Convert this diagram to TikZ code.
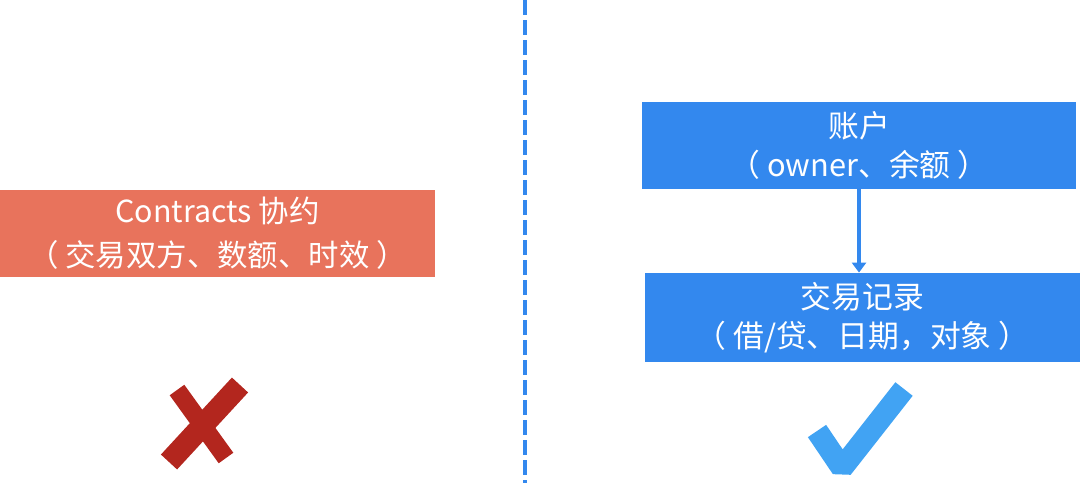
\documentclass[tikz,border=0pt]{standalone}
\usepackage{fontspec}
\newfontfamily\cjk{Noto Sans CJK SC}
\usetikzlibrary{arrows.meta}
\definecolor{contractred}{HTML}{E8735C}
\definecolor{ledgerblue}{HTML}{3388EE}
\definecolor{crossred}{HTML}{B3261E}
\definecolor{tickblue}{HTML}{41A3F3}
\tikzset{
  leftbox/.style={fill=contractred, text=white, inner sep=0pt, minimum width=217.5pt, minimum height=43.5pt,
    align=center, font=\cjk\fontsize{15.2}{22}\selectfont},
  rightbox/.style={fill=ledgerblue, text=white, inner sep=0pt, minimum width=217pt, minimum height=43.5pt,
    align=center, font=\cjk\fontsize{15.4}{19.5}\selectfont},
}
\begin{document}
\begin{tikzpicture}[x=0.5pt,y=-0.5pt]
\useasboundingbox (0,0) rectangle (1080,483);
% divider
\coordinate (divtop) at (525,0);
\coordinate (divbot) at (525,483);
\draw[ledgerblue, line width=2.2pt, dash pattern=on 7.5pt off 2.5pt] (divtop) -- (divbot);
% left side
\node[leftbox] (contract) at (217.5,233.5) {Contracts 协约\\（ 交易双方、数额、时效 ）};
% right side
\node[rightbox] (account) at (859,145.5) {账户\\（ owner、余额 ）};
\node[rightbox, minimum width=217.5pt, minimum height=44.5pt] (ledger) at (862.5,317.5) {交易记录\\（ 借/贷、日期，对象 ）};
\draw[ledgerblue, line width=2pt, -{Triangle[width=7pt,length=5pt]}] (account.south) -- (account.south |- ledger.north);
% cross and tick
\draw[crossred, line width=9pt] (177,390) -- (226,458);
\draw[crossred, line width=11pt] (240,385) -- (169,462);
\draw[tickblue, line width=11pt, line join=bevel] (817,431) -- (842,468) -- (904,389);
\end{tikzpicture}
\end{document}
